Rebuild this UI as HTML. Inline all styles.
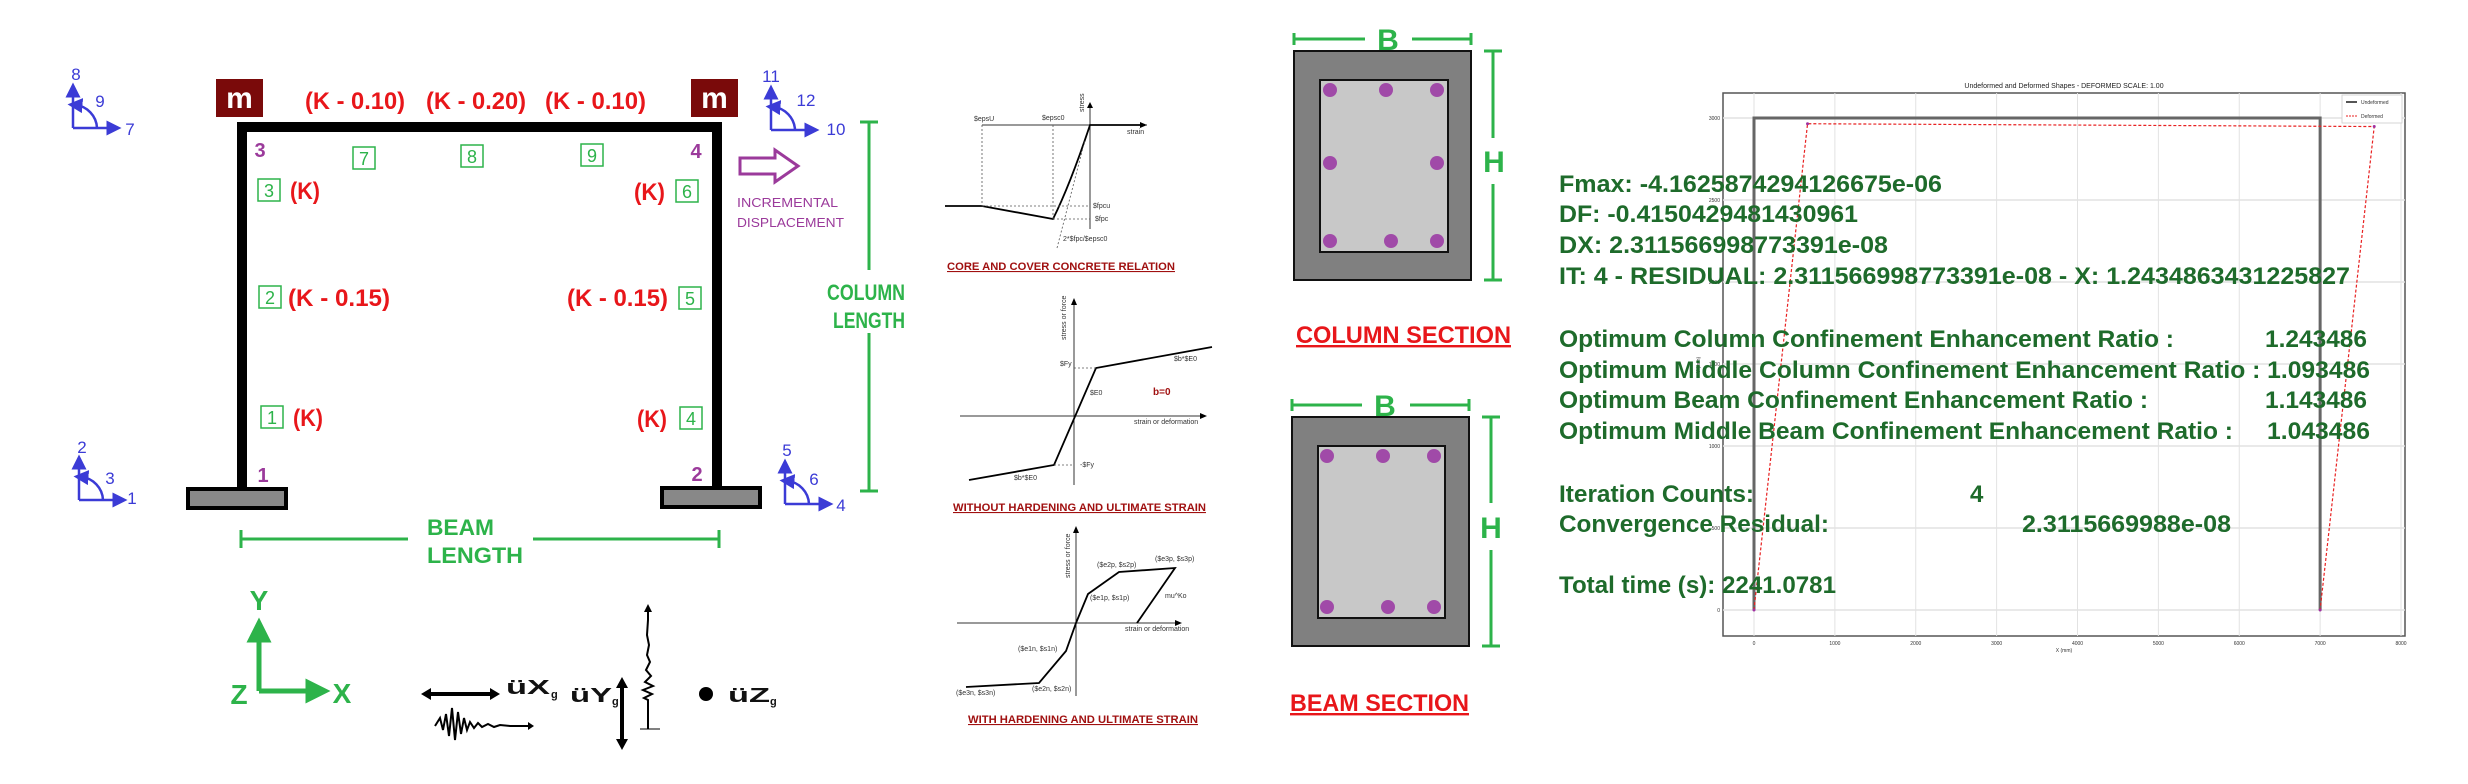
<!DOCTYPE html>
<html><head><meta charset="utf-8"><style>
html,body{margin:0;padding:0;background:#fff;}
svg{display:block;font-family:"Liberation Sans",sans-serif;}
</style></head><body>
<svg id="root" width="2468" height="784" viewBox="0 0 2468 784" xmlns="http://www.w3.org/2000/svg">
<defs>
<marker id="ab" markerWidth="6" markerHeight="6" refX="3" refY="3" orient="auto"><path d="M0,0 L6,3 L0,6 z" fill="#3b3bd6"/></marker>
<marker id="ag" markerWidth="5" markerHeight="5" refX="2.5" refY="2.5" orient="auto"><path d="M0,0 L5,2.5 L0,5 z" fill="#2db34a"/></marker>
<marker id="ak" markerWidth="6" markerHeight="6" refX="3" refY="3" orient="auto"><path d="M0,0 L6,3 L0,6 z" fill="#000"/></marker>
</defs>

<!-- ===== FRAME PANEL ===== -->
<g>
<path d="M242,488 L242,127 L717,127 L717,488" fill="none" stroke="#000" stroke-width="10"/>
<rect x="188" y="489" width="98" height="19" fill="#888" stroke="#000" stroke-width="4"/>
<rect x="662" y="488" width="98" height="19" fill="#888" stroke="#000" stroke-width="4"/>
<rect x="216" y="79" width="47" height="38" fill="#7a0a0a"/>
<text x="239.5" y="108" font-size="30" font-weight="bold" fill="#fff" text-anchor="middle">m</text>
<rect x="691" y="79" width="47" height="38" fill="#7a0a0a"/>
<text x="714.5" y="108" font-size="30" font-weight="bold" fill="#fff" text-anchor="middle">m</text>

<g fill="#e8161a" font-size="24" font-weight="bold">
<text x="305" y="109" textLength="100" lengthAdjust="spacingAndGlyphs">(K - 0.10)</text>
<text x="426" y="109" textLength="100" lengthAdjust="spacingAndGlyphs">(K - 0.20)</text>
<text x="545" y="109" textLength="101" lengthAdjust="spacingAndGlyphs">(K - 0.10)</text>
<text x="290" y="199" textLength="30" lengthAdjust="spacingAndGlyphs">(K)</text>
<text x="634" y="200" textLength="31" lengthAdjust="spacingAndGlyphs">(K)</text>
<text x="288" y="306" textLength="102" lengthAdjust="spacingAndGlyphs">(K - 0.15)</text>
<text x="567" y="306" textLength="101" lengthAdjust="spacingAndGlyphs">(K - 0.15)</text>
<text x="293" y="426" textLength="30" lengthAdjust="spacingAndGlyphs">(K)</text>
<text x="637" y="427" textLength="30" lengthAdjust="spacingAndGlyphs">(K)</text>
</g>

<g fill="#9b3a9b" font-size="20" font-weight="bold" text-anchor="middle">
<text x="260" y="157">3</text><text x="696" y="158">4</text>
<text x="263" y="482">1</text><text x="697" y="481">2</text>
</g>

<g font-size="18" fill="#2db34a" text-anchor="middle">
<g fill="none" stroke="#2db34a" stroke-width="1.5">
<rect x="353" y="147" width="22" height="22"/><rect x="461" y="145" width="22" height="22"/><rect x="581" y="144" width="22" height="22"/>
<rect x="258" y="179" width="22" height="22"/><rect x="676" y="180" width="22" height="22"/>
<rect x="259" y="286" width="22" height="22"/><rect x="679" y="287" width="22" height="22"/>
<rect x="261" y="406" width="22" height="22"/><rect x="680" y="407" width="22" height="22"/>
</g>
<text x="364" y="165">7</text><text x="472" y="163">8</text><text x="592" y="162">9</text>
<text x="269" y="197">3</text><text x="687" y="198">6</text>
<text x="270" y="304">2</text><text x="690" y="305">5</text>
<text x="272" y="424">1</text><text x="691" y="425">4</text>
</g>

<!-- DOF symbols -->
<g stroke="#3b3bd6" stroke-width="2.5" fill="none">
<path d="M73,128 L73,90" marker-end="url(#ab)"/><path d="M73,128 L114,128" marker-end="url(#ab)"/><path d="M97,128 A24,24 0 0 0 75,105" marker-end="url(#ab)"/>
<path d="M771,130 L771,92" marker-end="url(#ab)"/><path d="M771,130 L812,130" marker-end="url(#ab)"/><path d="M795,130 A24,24 0 0 0 773,107" marker-end="url(#ab)"/>
<path d="M79,500 L79,462" marker-end="url(#ab)"/><path d="M79,500 L120,500" marker-end="url(#ab)"/><path d="M103,500 A24,24 0 0 0 81,477" marker-end="url(#ab)"/>
<path d="M785,504 L785,466" marker-end="url(#ab)"/><path d="M785,504 L826,504" marker-end="url(#ab)"/><path d="M809,504 A24,24 0 0 0 787,481" marker-end="url(#ab)"/>
</g>
<g fill="#3b3bd6" font-size="17" text-anchor="middle">
<text x="76" y="80">8</text><text x="100" y="107">9</text><text x="130" y="135">7</text>
<text x="771" y="82">11</text><text x="806" y="106">12</text><text x="836" y="135">10</text>
<text x="82" y="453">2</text><text x="110" y="484">3</text><text x="132" y="504">1</text>
<text x="787" y="456">5</text><text x="814" y="485">6</text><text x="841" y="511">4</text>
</g>

<path d="M740,158 L775,158 L775,150 L798,166 L775,182 L775,174 L740,174 z" fill="none" stroke="#9b3a9b" stroke-width="3"/>
<text x="737" y="207" font-size="13" fill="#9b3a9b" textLength="101" lengthAdjust="spacingAndGlyphs">INCREMENTAL</text>
<text x="737" y="227" font-size="13" fill="#9b3a9b" textLength="107" lengthAdjust="spacingAndGlyphs">DISPLACEMENT</text>

<g stroke="#2db34a" stroke-width="3">
<path d="M869,122 L869,270 M869,333 L869,491 M860,122 L878,122 M860,491 L878,491"/>
</g>
<text x="866" y="300" font-size="22" font-weight="bold" fill="#2db34a" text-anchor="middle" textLength="78" lengthAdjust="spacingAndGlyphs">COLUMN</text>
<text x="869" y="328" font-size="22" font-weight="bold" fill="#2db34a" text-anchor="middle" textLength="72" lengthAdjust="spacingAndGlyphs">LENGTH</text>

<g stroke="#2db34a" stroke-width="3">
<path d="M241,539 L408,539 M533,539 L719,539 M241,530 L241,548 M719,530 L719,548"/>
</g>
<text x="427" y="535" font-size="22" font-weight="bold" fill="#2db34a" textLength="67" lengthAdjust="spacingAndGlyphs">BEAM</text>
<text x="427" y="563" font-size="22" font-weight="bold" fill="#2db34a" textLength="96" lengthAdjust="spacingAndGlyphs">LENGTH</text>

<!-- XYZ -->
<g>
<path d="M259,691 L259,630" stroke="#2db34a" stroke-width="5" marker-end="url(#ag)"/>
<path d="M259,691 L318,691" stroke="#2db34a" stroke-width="5" marker-end="url(#ag)"/>
<text x="259" y="610" font-size="28" font-weight="bold" fill="#2db34a" text-anchor="middle">Y</text>
<text x="342" y="703" font-size="28" font-weight="bold" fill="#2db34a" text-anchor="middle">X</text>
<text x="239" y="704" font-size="28" font-weight="bold" fill="#2db34a" text-anchor="middle">Z</text>
</g>

<!-- ground motion -->
<g>
<path d="M428,694 L493,694" stroke="#000" stroke-width="4"/>
<path d="M421,694 L431,688 L431,700 z M500,694 L490,688 L490,700 z" fill="#000"/>
<text x="506" y="694" font-size="20" font-weight="bold" fill="#111" textLength="44" lengthAdjust="spacingAndGlyphs">üX</text>
<text x="551" y="698" font-size="11" font-weight="bold" fill="#111">g</text>
<polyline points="435,726 440,718 443,730 446,714 449,736 452,708 455,740 458,712 461,734 464,718 467,730 470,722 474,728 478,723 482,727 488,724 494,727 500,725 510,726 528,726" fill="none" stroke="#000" stroke-width="2"/>
<path d="M528,722 L534,726 L528,730z" fill="#000"/>
<text x="570" y="702" font-size="20" font-weight="bold" fill="#111" textLength="42" lengthAdjust="spacingAndGlyphs">üY</text>
<text x="612" y="705" font-size="11" font-weight="bold" fill="#111">g</text>
<path d="M622,684 L622,743" stroke="#000" stroke-width="4"/>
<path d="M622,677 L616,688 L628,688 z M622,750 L616,739 L628,739 z" fill="#000"/>
<polyline points="648,729 648,700 644,698 652,694 643,690 653,686 645,682 651,676 646,670 650,662 647,655 649,645 647,635 648,620 648,610" fill="none" stroke="#000" stroke-width="2"/>
<path d="M644,612 L648,604 L652,612z" fill="#000"/>
<path d="M640,729 L660,729" stroke="#000" stroke-width="1"/>
<circle cx="706" cy="694" r="7" fill="#000"/>
<text x="728" y="702" font-size="20" font-weight="bold" fill="#111" textLength="42" lengthAdjust="spacingAndGlyphs">üZ</text>
<text x="770" y="705" font-size="11" font-weight="bold" fill="#111">g</text>
</g>
</g>

<!-- ===== MATERIAL CURVES ===== -->
<g font-size="7" fill="#333">
<path d="M982,125 L1147,125" stroke="#333" stroke-width="1"/>
<path d="M1140,122 L1147,125 L1140,128z" fill="#000"/>
<path d="M1090,229 L1090,105" stroke="#333" stroke-width="1"/>
<path d="M1087,108 L1090,102 L1093,108z" fill="#000"/>
<path d="M945,206 L982,206 L1053,219 Q1070,185 1090,125 L1145,125" fill="none" stroke="#000" stroke-width="1.8"/>
<path d="M982,125 L982,206 M1053,125 L1053,219 M982,206 L1090,206 M1053,219 L1090,219 M1057,248 L1085,140" stroke="#555" stroke-width="0.8" stroke-dasharray="2,2" fill="none"/>
<text x="974" y="121">$epsU</text><text x="1042" y="120">$epsc0</text>
<text x="1127" y="134">strain</text><text x="1093" y="208">$fpcu</text><text x="1095" y="221">$fpc</text>
<text x="1063" y="241">2*$fpc/$epsc0</text>
<text transform="translate(1084,112) rotate(-90)">stress</text>
</g>
<text x="947" y="270" font-size="11" font-weight="bold" fill="#a01010" text-decoration="underline" textLength="228" lengthAdjust="spacingAndGlyphs">CORE AND COVER CONCRETE RELATION</text>

<g font-size="7" fill="#333">
<path d="M960,416 L1205,416 M1074,485 L1074,302" stroke="#333" stroke-width="1"/>
<path d="M1200,413 L1207,416 L1200,419z M1071,305 L1074,298 L1077,305z" fill="#000"/>
<path d="M969,480 L1054,465 L1096,368 L1212,347" fill="none" stroke="#000" stroke-width="1.8"/>
<path d="M1074,368 L1096,368 M1054,465 L1074,465" stroke="#555" stroke-width="0.8" stroke-dasharray="2,2"/>
<text x="1060" y="366">$Fy</text><text x="1090" y="395">$E0</text><text x="1080" y="467">-$Fy</text>
<text x="1174" y="361">$b*$E0</text><text x="1014" y="480">$b*$E0</text>
<text x="1134" y="424">strain or deformation</text>
<text transform="translate(1066,340) rotate(-90)">stress or force</text>
<text x="1153" y="395" font-size="10" font-weight="bold" fill="#a01010">b=0</text>
</g>
<text x="953" y="511" font-size="11" font-weight="bold" fill="#a01010" text-decoration="underline" textLength="253" lengthAdjust="spacingAndGlyphs">WITHOUT HARDENING AND ULTIMATE STRAIN</text>

<g font-size="7" fill="#333">
<path d="M957,623 L1180,623 M1076,696 L1076,530" stroke="#333" stroke-width="1"/>
<path d="M1175,620 L1182,623 L1175,626z M1073,533 L1076,526 L1079,533z" fill="#000"/>
<path d="M966,687 L1039,683 L1066,651 L1076,623 L1088,594 L1119,572 L1175,568 L1137,623" fill="none" stroke="#000" stroke-width="1.8"/>
<text x="1097" y="567">($e2p, $s2p)</text><text x="1155" y="561">($e3p, $s3p)</text>
<text x="1090" y="600">($e1p, $s1p)</text><text x="1165" y="598">mu^Ko</text>
<text x="1125" y="631">strain or deformation</text>
<text x="1018" y="651">($e1n, $s1n)</text><text x="956" y="695">($e3n, $s3n)</text><text x="1032" y="691">($e2n, $s2n)</text>
<text transform="translate(1070,578) rotate(-90)">stress or force</text>
</g>
<text x="968" y="723" font-size="11" font-weight="bold" fill="#a01010" text-decoration="underline" textLength="230" lengthAdjust="spacingAndGlyphs">WITH HARDENING AND ULTIMATE STRAIN</text>

<!-- ===== SECTIONS ===== -->
<g>
<rect x="1294" y="51" width="177" height="229" fill="#808080" stroke="#111" stroke-width="2"/>
<rect x="1320" y="80" width="128" height="172" fill="#c8c8c8" stroke="#111" stroke-width="2"/>
<g fill="#a04aa8"><circle cx="1330" cy="90" r="7"/><circle cx="1386" cy="90" r="7"/><circle cx="1437" cy="90" r="7"/>
<circle cx="1330" cy="163" r="7"/><circle cx="1437" cy="163" r="7"/>
<circle cx="1330" cy="241" r="7"/><circle cx="1391" cy="241" r="7"/><circle cx="1437" cy="241" r="7"/></g>
<path d="M1294,39 L1365,39 M1412,39 L1471,39 M1294,33 L1294,45 M1471,33 L1471,45" stroke="#2db34a" stroke-width="3"/>
<text x="1388" y="50" font-size="30" font-weight="bold" fill="#2db34a" text-anchor="middle">B</text>
<path d="M1493,51 L1493,138 M1493,184 L1493,280 M1484,51 L1502,51 M1484,280 L1502,280" stroke="#2db34a" stroke-width="3"/>
<text x="1494" y="172" font-size="30" font-weight="bold" fill="#2db34a" text-anchor="middle">H</text>
</g>
<text x="1296" y="343" font-size="24" font-weight="bold" fill="#e8161a" text-decoration="underline" textLength="215" lengthAdjust="spacingAndGlyphs">COLUMN SECTION</text>

<g>
<rect x="1292" y="417" width="177" height="229" fill="#808080" stroke="#111" stroke-width="2"/>
<rect x="1318" y="446" width="127" height="172" fill="#c8c8c8" stroke="#111" stroke-width="2"/>
<g fill="#a04aa8"><circle cx="1327" cy="456" r="7"/><circle cx="1383" cy="456" r="7"/><circle cx="1434" cy="456" r="7"/>
<circle cx="1327" cy="607" r="7"/><circle cx="1388" cy="607" r="7"/><circle cx="1434" cy="607" r="7"/></g>
<path d="M1292,405 L1362,405 M1410,405 L1469,405 M1292,399 L1292,411 M1469,399 L1469,411" stroke="#2db34a" stroke-width="3"/>
<text x="1385" y="416" font-size="30" font-weight="bold" fill="#2db34a" text-anchor="middle">B</text>
<path d="M1491,417 L1491,503 M1491,550 L1491,646 M1482,417 L1500,417 M1482,646 L1500,646" stroke="#2db34a" stroke-width="3"/>
<text x="1491" y="538" font-size="30" font-weight="bold" fill="#2db34a" text-anchor="middle">H</text>
</g>
<text x="1290" y="711" font-size="24" font-weight="bold" fill="#e8161a" text-decoration="underline" textLength="179" lengthAdjust="spacingAndGlyphs">BEAM SECTION</text>

<!-- ===== DEFORMED SHAPE CHART ===== -->
<g id="chart"></g>

<!-- ===== RESULTS TEXT ===== -->
<g fill="#1e6b2b" font-size="24" font-weight="bold">
<text x="1559" y="192" textLength="383" lengthAdjust="spacingAndGlyphs">Fmax:  -4.1625874294126675e-06</text>
<text x="1559" y="222" textLength="299" lengthAdjust="spacingAndGlyphs">DF:  -0.4150429481430961</text>
<text x="1559" y="253" textLength="329" lengthAdjust="spacingAndGlyphs">DX:  2.311566998773391e-08</text>
<text x="1559" y="284" textLength="791" lengthAdjust="spacingAndGlyphs">IT:  4  - RESIDUAL:  2.311566998773391e-08  - X:  1.2434863431225827</text>
<text x="1559" y="347" textLength="615" lengthAdjust="spacingAndGlyphs">Optimum Column Confinement Enhancement Ratio :</text>
<text x="2265" y="347" textLength="102" lengthAdjust="spacingAndGlyphs">1.243486</text>
<text x="1559" y="378" textLength="811" lengthAdjust="spacingAndGlyphs">Optimum Middle Column Confinement Enhancement Ratio : 1.093486</text>
<text x="1559" y="408" textLength="589" lengthAdjust="spacingAndGlyphs">Optimum Beam Confinement Enhancement Ratio :</text>
<text x="2265" y="408" textLength="102" lengthAdjust="spacingAndGlyphs">1.143486</text>
<text x="1559" y="439" textLength="674" lengthAdjust="spacingAndGlyphs">Optimum Middle Beam Confinement Enhancement Ratio :</text>
<text x="2267" y="439" textLength="103" lengthAdjust="spacingAndGlyphs">1.043486</text>
<text x="1559" y="502" textLength="195" lengthAdjust="spacingAndGlyphs">Iteration Counts:</text>
<text x="1970" y="502">4</text>
<text x="1559" y="532" textLength="270" lengthAdjust="spacingAndGlyphs">Convergence Residual:</text>
<text x="2022" y="532" textLength="209" lengthAdjust="spacingAndGlyphs">2.3115669988e-08</text>
<text x="1559" y="593" textLength="277" lengthAdjust="spacingAndGlyphs">Total time (s): 2241.0781</text>
</g>
</svg>
<script>
const xTicks = [0,1000,2000,3000,4000,5000,6000,7000,8000];
const yTicks = [0,500,1000,1500,2000,2500,3000];
const undefX = [0,0,7000,7000];
const undefY = [0,3000,3000,0];
const defX = [0,662,7669,7000];
const defY = [0,2965,2948,0];
const NS='http://www.w3.org/2000/svg';
const L=1723,R=2405,T=93,B=636;
function sx(v){return 1754+v*(2401-1754)/8000;}
function sy(v){return 610-v*(610-118)/3000;}
const g=document.getElementById('chart');
function mk(tag,attrs,parent){const e=document.createElementNS(NS,tag);for(const k in attrs)e.setAttribute(k,attrs[k]);(parent||g).appendChild(e);return e;}
const frame=mk('rect',{x:L,y:T,width:R-L,height:B-T,fill:'#fff',stroke:'#555','stroke-width':1.5});


xTicks.forEach(v=>{
  const gl=mk('line',{x1:sx(v),x2:sx(v),y1:T,y2:B,stroke:'#e2e2e2','stroke-width':1});
  
  
  const t=mk('text',{x:sx(v),y:B+9,'font-size':5,'text-anchor':'middle',fill:'#333'});t.textContent=v;
  
  
});
yTicks.forEach(v=>{
  const gl=mk('line',{x1:L,x2:R,y1:sy(v),y2:sy(v),stroke:'#e2e2e2','stroke-width':1.5});
  
  
  const t=mk('text',{x:L-3,y:sy(v)+2,'font-size':5,'text-anchor':'end',fill:'#333'});t.textContent=v;
  
  
});
const ttl=mk('text',{x:2064,y:88,'font-size':7,'text-anchor':'middle',fill:'#222'});ttl.textContent='Undeformed and Deformed Shapes - DEFORMED SCALE: 1.00';


const xl=mk('text',{x:2064,y:652,'font-size':5,'text-anchor':'middle',fill:'#333'});xl.textContent='X (mm)';


const yl=mk('text',{transform:'translate(1700,365) rotate(-90)','font-size':5,'text-anchor':'middle',fill:'#333'});yl.textContent='Y (mm)';


const up=mk('polyline',{points:undefX.map((x,i)=>sx(x)+','+sy(undefY[i])).join(' '),fill:'none',stroke:'#666','stroke-width':3});


const dp=mk('polyline',{points:defX.map((x,i)=>sx(x)+','+sy(defY[i])).join(' '),fill:'none',stroke:'#e82020','stroke-width':1.2,'stroke-dasharray':'3,2'});


defX.forEach((x,i)=>{
  const p=mk('circle',{cx:sx(x),cy:sy(defY[i]),r:1.5,fill:'#a030a0'});
  
  
});
const lg=mk('g',{});


mk('rect',{x:2342,y:95,width:60,height:28,fill:'#fff',stroke:'#ccc','stroke-width':0.8},lg);
mk('line',{x1:2346,x2:2357,y1:102,y2:102,stroke:'#555','stroke-width':2},lg);
mk('line',{x1:2346,x2:2357,y1:116,y2:116,stroke:'#e82020','stroke-width':1,'stroke-dasharray':'2,1'},lg);
const l1=mk('text',{x:2361,y:104,'font-size':5,fill:'#333'},lg);l1.textContent='Undeformed';
const l2=mk('text',{x:2361,y:118,'font-size':5,fill:'#333'},lg);l2.textContent='Deformed';
</script>
</body></html>
